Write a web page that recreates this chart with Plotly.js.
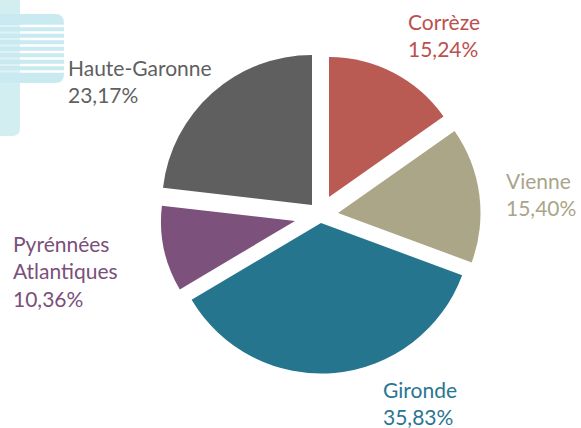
<!DOCTYPE html>
<html>
<head>
<meta charset="utf-8">
<script src="https://cdn.plot.ly/plotly-3.0.1.min.js"></script>
<style>html,body{margin:0;padding:0;background:#fff;}#chart{width:581px;height:428px;}</style>
</head>
<body>
<div id="chart"></div>
<script>
var labels = ["Corrèze", "Vienne", "Gironde", "Pyrénnées Atlantiques", "Haute-Garonne"];
var values = [15.24, 15.40, 35.83, 10.36, 23.17];
var labelLines = [["Corrèze"], ["Vienne"], ["Gironde"], ["Pyrénnées", "Atlantiques"], ["Haute-Garonne"]];
var sliceColors = ["#b95a53", "#aca688", "#25758f", "#7c527c", "#5f5f5f"];
var textColors = ["#bb504e", "#aaa58a", "#2a7592", "#7a4f7a", "#5f5f5f"];

var W = 581, H = 428;
function px(x){ return x / W; }
function py(y){ return 1 - y / H; }

// layout: apex (centre) and radius of each exploded slice, in pixels
var sliceApex = [[329, 197], [338, 213], [321, 223], [295, 221], [312, 205]];
var sliceRadius = [140, 142.5, 150.5, 134, 150];

// label anchor positions (pixels, top-left of text block)
var labelPos = [[406, 7], [504, 166], [381, 375], [11, 229], [66, 53]];

var annotations = labels.map(function(l, i){
  var txt = labelLines[i].join("<br>") + "<br>" + values[i].toFixed(2).replace(".", ",") + "%";
  return {
    xref: "paper", yref: "paper",
    x: px(labelPos[i][0]), y: py(labelPos[i][1]),
    xanchor: "left", yanchor: "top", align: "left",
    showarrow: false, text: txt,
    font: {family: "Lato", size: 21, color: textColors[i]}
  };
});

// background decoration
var shapes = [];
function rr(x0, y0, x1, y1, r){
  return "M" + px(x0) + "," + py(y0) + " L" + px(x1 - r) + "," + py(y0) +
    " Q" + px(x1) + "," + py(y0) + " " + px(x1) + "," + py(y0 + r) +
    " L" + px(x1) + "," + py(y1 - r) +
    " Q" + px(x1) + "," + py(y1) + " " + px(x1 - r) + "," + py(y1) +
    " L" + px(x0) + "," + py(y1) + " Z";
}
shapes.push({type: "path", xref: "paper", yref: "paper", path: rr(0, -10, 20, 136, 8), fillcolor: "#d2eef1", line: {width: 0}, layer: "below"});
shapes.push({type: "path", xref: "paper", yref: "paper", path: rr(0, 14, 64, 83, 9), fillcolor: "#c9eaf0", line: {width: 0}, layer: "below"});
[26, 32.5, 39, 45.5, 52, 58.5, 65, 71.5].forEach(function(y){
  shapes.push({type: "rect", xref: "paper", yref: "paper", x0: px(20), x1: px(64), y0: py(y + 1.3), y1: py(y - 1.3), fillcolor: "#ffffff", line: {width: 0}, layer: "below"});
  shapes.push({type: "rect", xref: "paper", yref: "paper", x0: px(0), x1: px(20), y0: py(y + 1), y1: py(y - 1), fillcolor: "#dff3f6", line: {width: 0}, layer: "below"});
});

var traces = labels.map(function(l, i){
  var ax = sliceApex[i][0], ay = sliceApex[i][1], r = sliceRadius[i];
  return {
    type: "pie",
    labels: labels,
    values: values,
    sort: false,
    direction: "clockwise",
    rotation: 0,
    marker: {colors: sliceColors.map(function(c, j){ return j === i ? c : "rgba(0,0,0,0)"; }), line: {width: 0}},
    textinfo: "none",
    hoverinfo: "skip",
    domain: {x: [px(ax - r), px(ax + r)], y: [py(ay + r), py(ay - r)]}
  };
});

Plotly.newPlot("chart", traces, {
  width: W, height: H,
  margin: {l: 0, r: 0, t: 0, b: 0},
  paper_bgcolor: "#ffffff",
  showlegend: false,
  annotations: annotations,
  shapes: shapes
}, {displayModeBar: false, staticPlot: true});
</script>
</body>
</html>
